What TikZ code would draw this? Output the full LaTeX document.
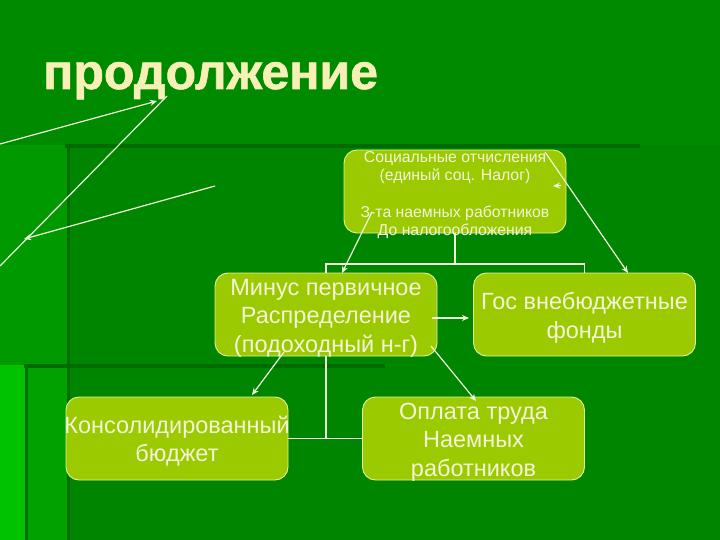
\documentclass[tikz,border=0pt]{standalone}
\usepackage{fontspec}
\setmainfont{Liberation Sans}
\newfontfamily\titlefont[FakeBold=1.2]{Liberation Sans Bold}
\usetikzlibrary{arrows.meta}
\definecolor{bgbase}{HTML}{008A00}
\definecolor{bginner}{HTML}{008500}
\definecolor{bgleft}{HTML}{009A00}
\definecolor{bgbright}{HTML}{00C200}
\definecolor{bgdark}{HTML}{006C00}
\definecolor{boxfill}{HTML}{9CCA00}
\definecolor{boxline}{HTML}{E2F29A}
\definecolor{titlecol}{HTML}{F6F0B6}
\definecolor{txtcol}{HTML}{F4F4DA}
\definecolor{linecol}{HTML}{EEF8DC}
\tikzset{
  stagebox/.style={draw=boxline, line width=0.9pt, fill=boxfill, rounded corners=13pt,
    minimum width=222pt, minimum height=83pt, inner sep=0pt},
  boxtext/.style={text=txtcol, align=center, inner sep=0pt, font=\fontsize{23.5}{28.5}\selectfont},
  smalltext/.style={text=txtcol, align=center, inner sep=0pt, font=\fontsize{15.8}{18.3}\selectfont},
  orgline/.style={draw=linecol, line width=1.3pt},
  arr/.style={draw=linecol, line width=1.2pt, -{Stealth[length=7pt,width=6pt]}},
  plainarr/.style={draw=linecol, line width=1.2pt}
}
\begin{document}
\begin{tikzpicture}[x=1pt,y=-1pt]
\useasboundingbox (0,0) rectangle (720,540);
% background
\fill[bgbase] (0,0) rectangle (720,540);
\fill[bginner] (67,145) rectangle (720,540);
\fill[bgleft] (0,145) rectangle (67,540);
\fill[bgleft!80!bgbright] (25,365) rectangle (67,540);
\fill[bgbright] (0,365) rectangle (25,540);
\draw[bgdark, line width=4pt] (65,146) -- (640,146);
\draw[bgdark, line width=3pt] (68,146) -- (68,540);
\draw[bgdark, line width=4pt] (24,366) -- (385,366);
\draw[bgdark, line width=3pt] (26,366) -- (26,540);
% title
\node[text=titlecol, anchor=base west, inner sep=0pt, font=\fontsize{50}{50}\titlefont] (title) at (43,89) {продолжение};
% boxes
\node[stagebox] (top) at (455,191.5) {};
\node[stagebox] (minus) at (326,314.5) {};
\node[stagebox] (gos) at (584.5,314.5) {};
\node[stagebox] (kons) at (177,438.5) {};
\node[stagebox] (opl) at (473.5,438.5) {};
% texts
\node[smalltext] (toptext) at (455,195) {Социальные отчисления\\(единый соц. Налог)\\[18.3pt]З-та наемных работников\\До налогообложения};
\node[boxtext] (minustext) at (326,318) {Минус первичное\\Распределение\\(подоходный н-г)};
\node[boxtext] (gostext) at (584.5,318) {Гос внебюджетные\\фонды};
\node[boxtext] (konstext) at (177,441) {Консолидированный\\бюджет};
\node[boxtext] (opltext) at (473.5,442) {Оплата труда\\Наемных\\работников};
% org chart lines
\coordinate (j1) at (455,264);
\draw[orgline] (top.south) -- (j1);
\draw[orgline] (minus.north) |- (j1) -| (gos.north);
\draw[orgline] (minus.south) -- (minus.south |- kons.east);
\draw[orgline] (kons.east) -- (opl.west);
% free arrows
\coordinate (a1s) at (0,144);
\coordinate (a1e) at (157,101);
\draw[arr] (a1s) -- (a1e);
\coordinate (l2s) at (167,96);
\coordinate (l2e) at (0,266);
\draw[plainarr] (l2s) -- (l2e);
\coordinate (a3s) at (215,186);
\coordinate (a3e) at (24,239);
\draw[arr] (a3s) -- (a3e);
\coordinate (a4s) at (545,152);
\coordinate (a4e) at (628,273);
\draw[arr] (a4s) -- (a4e);
\coordinate (a5s) at (561,185.5);
\coordinate (a5e) at (553,186);
\draw[arr] (a5s) -- (a5e);
\coordinate (a6s) at (372,212);
\coordinate (a6e) at (342,273);
\draw[arr] (a6s) -- (a6e);
\coordinate (a7s) at (432,318);
\coordinate (a7e) at (469,318);
\draw[arr] (a7s) -- (a7e);
\coordinate (a8s) at (284,352);
\coordinate (a8e) at (252,395);
\draw[arr] (a8s) -- (a8e);
\coordinate (a9s) at (431,346);
\coordinate (a9e) at (476,401);
\draw[arr] (a9s) -- (a9e);
\end{tikzpicture}
\end{document}
